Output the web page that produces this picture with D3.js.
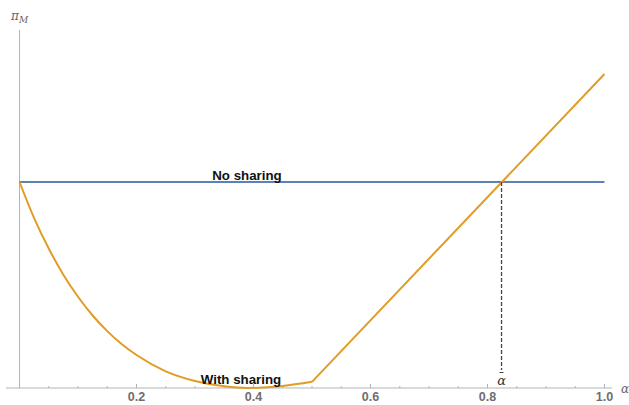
<!DOCTYPE html>
<html><head><meta charset="utf-8">
<script src="https://cdn.jsdelivr.net/npm/d3@7"></script>
<style>body{margin:0;background:#fff}svg{display:block}</style>
</head><body><svg id="c" width="629" height="405"></svg>
<script>
// Data
const noSharingX = [0, 1.0];
const noSharingY = [1, 1];
const withSharingX = [0, 0.025, 0.05, 0.075, 0.1, 0.125, 0.15, 0.175, 0.2, 0.25, 0.3, 0.35, 0.39, 0.45, 0.5, 1.0];
const withSharingY = [1.0, 0.825, 0.677, 0.55, 0.443, 0.352, 0.276, 0.212, 0.16, 0.081, 0.034, 0.008, 0.0, 0.01, 0.03, 1.524];
const alphaBar = 0.824;
const xTicks = [0.2, 0.4, 0.6, 0.8, 1.0];
const xMinorTicks = d3.range(0.05, 1.001, 0.05);
const labels = ["No sharing", "With sharing"];

const svg = d3.select("#c");
const x = d3.scaleLinear().domain([0, 1]).range([19.5, 604.5]);
const y = d3.scaleLinear().domain([0, 1]).range([388, 182]);
const axisCol = "#b3b3b3";

// y axis
svg.append("line").attr("x1", x(0)).attr("x2", x(0)).attr("y1", 30).attr("y2", y(0))
  .attr("stroke", axisCol).attr("stroke-width", 1);
// x axis
svg.append("line").attr("x1", 6).attr("x2", 612).attr("y1", y(0)).attr("y2", y(0))
  .attr("stroke", axisCol).attr("stroke-width", 1);
// minor ticks
svg.selectAll("line.minor").data(xMinorTicks).enter().append("line")
  .attr("x1", d => x(d)).attr("x2", d => x(d))
  .attr("y1", y(0)).attr("y2", d => y(0) - (Math.abs(d*5 - Math.round(d*5)) < 1e-6 ? 4 : 2))
  .attr("stroke", axisCol).attr("stroke-width", 1);
// tick labels
svg.selectAll("text.tick").data(xTicks).enter().append("text")
  .attr("x", d => x(d)).attr("y", 400.5).attr("text-anchor", "middle")
  .attr("font-family", "Liberation Sans, Arial, sans-serif").attr("font-size", 12.5)
  .attr("font-weight", "bold").attr("fill", "#6e6e6e").text(d => d.toFixed(1));

// axis labels
const ylab = svg.append("text").attr("x", 11).attr("y", 20)
  .attr("font-family", "DejaVu Serif, serif").attr("font-style", "italic")
  .attr("font-size", 12).attr("fill", "#666");
ylab.append("tspan").text("π");
ylab.append("tspan").attr("font-size", 9).attr("dy", 3).text("M");
svg.append("text").attr("x", 621).attr("y", 393)
  .attr("font-family", "DejaVu Serif, serif").attr("font-style", "italic")
  .attr("font-size", 12).attr("fill", "#666").text("α");

// no sharing line
const line = d3.line().x(d => x(d[0])).y(d => y(d[1]));
svg.append("path").datum(d3.zip(noSharingX, noSharingY)).attr("d", line)
  .attr("fill", "none").attr("stroke", "#5E81B5").attr("stroke-width", 2);

// with sharing curve
const curve = d3.line().x(d => x(d[0])).y(d => y(d[1])).curve(d3.curveMonotoneX);
const pts = d3.zip(withSharingX, withSharingY);
svg.append("path").datum(pts.slice(0, 15)).attr("d", curve)
  .attr("fill", "none").attr("stroke", "#E19C24").attr("stroke-width", 2);
svg.append("path").datum(pts.slice(14)).attr("d", line)
  .attr("fill", "none").attr("stroke", "#E19C24").attr("stroke-width", 2);

// dashed alpha bar line
svg.append("line").attr("x1", x(alphaBar)).attr("x2", x(alphaBar))
  .attr("y1", y(1)).attr("y2", 370)
  .attr("stroke", "#444").attr("stroke-width", 1.3).attr("stroke-dasharray", "4,2");
svg.append("line").attr("x1", x(alphaBar) - 2).attr("x2", x(alphaBar) + 2)
  .attr("y1", 372.5).attr("y2", 372.5).attr("stroke", "#444").attr("stroke-width", 1);
svg.append("text").attr("x", x(alphaBar)).attr("y", 385).attr("text-anchor", "middle")
  .attr("font-family", "DejaVu Serif, serif").attr("font-style", "italic")
  .attr("font-size", 13).attr("fill", "#333").text("α");

// labels
svg.append("text").attr("x", 247).attr("y", 180).attr("text-anchor", "middle")
  .attr("font-family", "Liberation Sans, Arial, sans-serif").attr("font-weight", "bold")
  .attr("font-size", 13.3).attr("fill", "#111").text(labels[0]);
svg.append("text").attr("x", 241).attr("y", 384).attr("text-anchor", "middle")
  .attr("font-family", "Liberation Sans, Arial, sans-serif").attr("font-weight", "bold")
  .attr("font-size", 13.3).attr("fill", "#111").text(labels[1]);
</script></body></html>
